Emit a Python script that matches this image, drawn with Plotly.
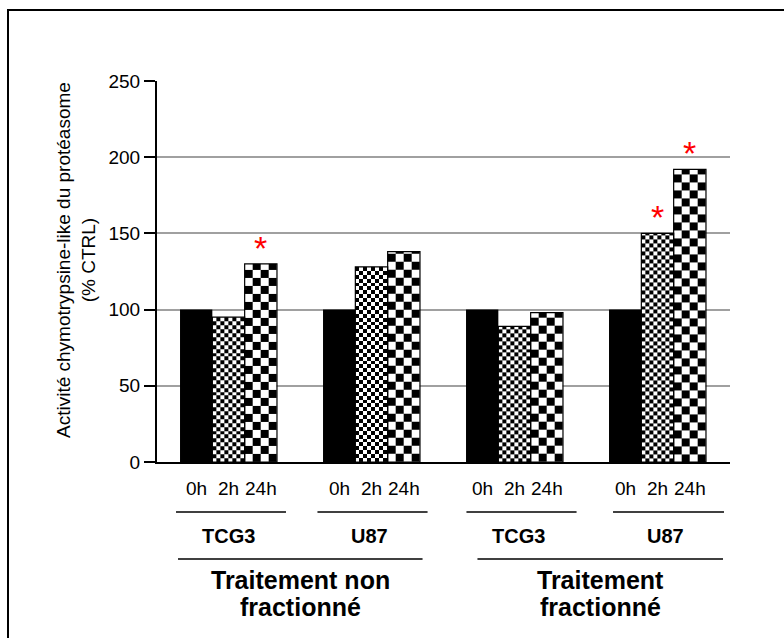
import numpy as np
import plotly.graph_objects as go

# ---------------- data ----------------
cell_lines = ["TCG3", "U87", "TCG3", "U87"]
treatments = ["Traitement non", "fractionné", "Traitement", "fractionné"]
times = ["0h", "2h", "24h"]
val_0h = [100, 100, 100, 100]
val_2h = [95, 128, 89, 150]
val_24h = [130, 138, 98, 192]
sig_2h = [False, False, False, True]
sig_24h = [True, False, False, True]
y_ticks = [0, 50, 100, 150, 200, 250]

# ---------------- geometry / style ----------------
FONT = "Liberation Sans, Arial, sans-serif"
W, H = 784, 638
L, R, T, B = 157, 54, 81, 176          # plot area margins (px)
PLOT_H = H - T - B
PLOT_W = W - L - R
BW = 0.226                              # bar width in group units
XR = [-0.50, 3.507]
YR = [0, 250]
groups = np.arange(len(cell_lines), dtype=float)
offs = [-BW, 0.0, BW]


def ypx(py):
    """pixel row -> paper y"""
    return (H - B - py) / PLOT_H


def checker(xc, val, ncol, cell_h):
    xe = np.linspace(xc - BW / 2, xc + BW / 2, ncol + 1)
    ye = list(np.arange(0, val - 1e-6, cell_h)) + [val]
    nrow = len(ye) - 1
    z = [[(r + c) % 2 for c in range(ncol)] for r in range(nrow)]
    return go.Heatmap(x=xe, y=ye, z=z, zmin=0, zmax=1,
                      colorscale=[[0, "white"], [1, "black"]],
                      showscale=False, hoverinfo="skip", xgap=0, ygap=0)


fig = go.Figure()

# checkerboard fills
for g, v in zip(groups, val_2h):
    fig.add_trace(checker(g + offs[1], v, 8, 2.56))
for g, v in zip(groups, val_24h):
    fig.add_trace(checker(g + offs[2], v, 4, 5.25))

# bars
fig.add_trace(go.Bar(x=groups + offs[0], y=val_0h, width=BW, name="0h",
                     marker=dict(color="black", line=dict(width=0))))
fig.add_trace(go.Bar(x=groups + offs[1], y=val_2h, width=BW, name="2h",
                     marker=dict(color="rgba(0,0,0,0)", line=dict(color="black", width=1.2))))
fig.add_trace(go.Bar(x=groups + offs[2], y=val_24h, width=BW, name="24h",
                     marker=dict(color="rgba(0,0,0,0)", line=dict(color="black", width=1.2))))

annotations = []
shapes = []

# significance stars
for sig, vals, o in ((sig_2h, val_2h, offs[1]), (sig_24h, val_24h, offs[2])):
    for g, s, v in zip(groups, sig, vals):
        if s:
            annotations.append(dict(x=g + o, y=v, xref="x", yref="y", text="*",
                                    showarrow=False, yanchor="middle", yshift=16,
                                    font=dict(family=FONT, size=34, color="red")))

# time labels
for g in groups:
    for o, t in zip(offs, times):
        annotations.append(dict(x=g + o, y=ypx(488), xref="x", yref="paper", text=t,
                                showarrow=False, yanchor="middle",
                                font=dict(family=FONT, size=19, color="black")))

# group underline + cell-line label
gl_left = [-0.367, -0.378, -0.336, -0.311]
gl_right = [0.402, 0.392, 0.434, 0.465]
for g, name, a, b in zip(groups, cell_lines, gl_left, gl_right):
    shapes.append(dict(type="line", xref="x", yref="paper", x0=g + a, x1=g + b,
                       y0=ypx(512), y1=ypx(512), line=dict(color="black", width=1.5)))
    annotations.append(dict(x=g + (a + b) / 2 - 0.02, y=ypx(536), xref="x", yref="paper",
                            text="<b>" + name + "</b>", showarrow=False, yanchor="middle",
                            font=dict(family=FONT, size=20, color="black")))

# treatment lines + labels
pair_left = [-0.353, -0.259]
pair_right = [0.357, 0.458]
for p in range(2):
    g0, g1 = groups[2 * p], groups[2 * p + 1]
    x0, x1 = g0 + pair_left[p], g1 + pair_right[p]
    shapes.append(dict(type="line", xref="x", yref="paper", x0=x0, x1=x1,
                       y0=ypx(559), y1=ypx(559), line=dict(color="black", width=1.5)))
    xc = (x0 + x1) / 2
    annotations.append(dict(x=xc, y=ypx(580), xref="x", yref="paper",
                            text="<b>" + treatments[2 * p] + "</b>", showarrow=False,
                            yanchor="middle", font=dict(family=FONT, size=25, color="black")))
    annotations.append(dict(x=xc, y=ypx(607), xref="x", yref="paper",
                            text="<b>" + treatments[2 * p + 1] + "</b>", showarrow=False,
                            yanchor="middle", font=dict(family=FONT, size=25, color="black")))

# y-axis title
annotations.append(dict(x=(76 - L) / PLOT_W, y=ypx(260), xref="paper", yref="paper",
                        text="Activité chymotrypsine-like du protéasome<br>(% CTRL)",
                        showarrow=False, textangle=-90, xanchor="center", yanchor="middle",
                        font=dict(family=FONT, size=19, color="black")))

# outer frame
shapes.append(dict(type="rect", xref="paper", yref="paper",
                   x0=(8 - L) / PLOT_W, x1=1.3, y0=-0.7, y1=ypx(10),
                   line=dict(color="black", width=2), layer="below"))

fig.update_layout(
    width=W, height=H,
    margin=dict(l=L, r=R, t=T, b=B, pad=0),
    paper_bgcolor="white", plot_bgcolor="white",
    barmode="overlay", showlegend=False,
    font=dict(family=FONT, size=18, color="black"),
    xaxis=dict(range=XR, showgrid=False, zeroline=False, showticklabels=False,
               ticks="", showline=True, linecolor="black", linewidth=2, fixedrange=True),
    yaxis=dict(range=YR, tickvals=y_ticks, showgrid=True, gridcolor="#a0a0a0",
               gridwidth=1.5, zeroline=False, showline=True, linecolor="black",
               linewidth=2, ticks="outside", ticklen=11, tickwidth=2, tickcolor="black",
               tickfont=dict(family=FONT, size=19, color="black"), fixedrange=True),
    annotations=annotations, shapes=shapes,
)

fig.write_html("out.html", config={"displayModeBar": False},
               post_script="document.body.style.margin='0';document.body.style.overflow='hidden';")
